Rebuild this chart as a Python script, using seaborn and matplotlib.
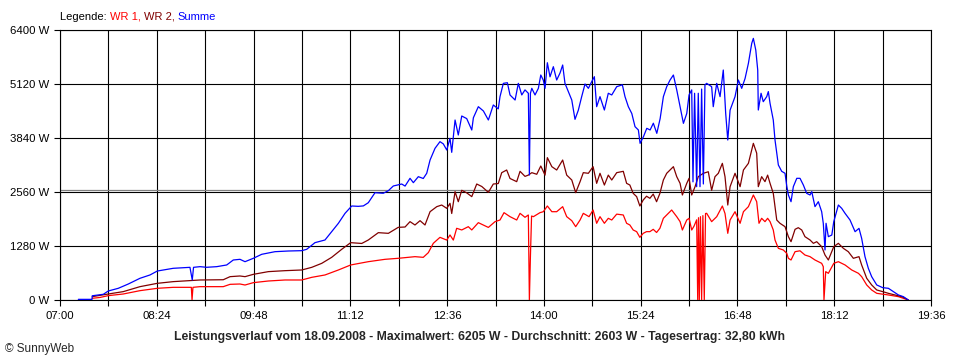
import matplotlib
matplotlib.use("Agg")
import matplotlib.pyplot as plt
import seaborn as sns

t_sum = [15.9, 27.8, 28.0, 37.6, 41.9, 50.6, 59.3, 69.4, 78.1, 84.5, 98.3, 112.8, 114.8, 115.9,
         121.5, 127.3, 136.0, 144.7, 150.4, 156.2, 160.6, 167.8, 175.1, 186.6, 198.2, 209.8, 214.1,
         221.3, 230.0, 235.8, 241.6, 247.4, 253.2, 258.9, 263.3, 267.6, 273.4, 280.6, 285.0, 289.3,
         296.6, 299.5, 303.8, 306.7, 311.0, 315.3, 318.3, 321.2, 325.5, 329.8, 332.7, 335.7, 338.5,
         340.0, 342.9, 345.7, 348.7, 353.0, 357.4, 358.8, 363.1, 367.5, 371.8, 376.1, 380.4, 381.9,
         384.8, 388.3, 390.6, 395.0, 397.8, 400.8, 403.6, 406.5, 407.4, 408.3, 409.5, 412.3, 415.2,
         417.3, 419.5, 421.0, 423.0, 425.3, 428.2, 431.1, 434.0, 436.3, 438.3, 441.2, 444.2, 447.0,
         449.9, 452.8, 455.7, 458.6, 461.5, 463.8, 465.8, 468.7, 472.5, 475.9, 478.9, 483.2, 488.1,
         490.4, 493.3, 496.3, 499.1, 502.0, 503.5, 506.4, 509.3, 512.2, 515.0, 518.0, 520.9, 523.7,
         526.6, 529.5, 532.4, 535.3, 538.2, 541.1, 544.0, 546.0, 548.3, 549.4, 550.8, 552.6, 554.0,
         555.5, 556.9, 558.4, 559.8, 561.3, 565.6, 567.0, 570.0, 572.9, 575.7, 577.8, 579.6, 581.6,
         585.9, 588.8, 591.7, 594.6, 597.5, 600.4, 601.8, 603.9, 605.6, 606.1, 608.5, 610.4, 613.4,
         614.8, 616.3, 619.1, 620.6, 622.1, 623.5, 626.4, 629.3, 630.8, 632.2, 634.5, 636.5, 639.5,
         642.3, 645.2, 648.1, 651.0, 652.5, 655.3, 658.2, 661.1, 662.5, 664.0, 664.9, 666.9, 669.9,
         671.6, 675.6, 678.5, 681.4, 685.7, 690.1, 693.5, 695.8, 698.7, 701.6, 704.5, 708.9, 714.1,
         719.0, 723.3, 727.7, 732.0, 736.3]
p_sum = [15, 15, 100, 135, 213, 277, 379, 514, 593, 687, 751, 774, 474, 774,
         790, 775, 790, 830, 948, 964, 908, 988, 1083, 1145, 1161, 1169, 1201,
         1359, 1422, 1619, 1817, 2054, 2228, 2220, 2230, 2306, 2543, 2530, 2591, 2702,
         2749, 2700, 2884, 2781, 2923, 2880, 3003, 3318, 3595, 3753, 3700, 3555, 3832,
         3500, 4266, 3911, 4361, 4300, 4029, 4320, 4582, 4480, 4266, 4622, 4530, 4819,
         5135, 5150, 4859, 4740, 5135, 4860, 4980, 4900, 2963, 4900, 5017, 4860, 5017,
         5333, 5210, 5017, 5624, 5290, 5530, 5214, 5380, 5570, 5135, 4938, 4740, 4282,
         4500, 4820, 5120, 5017, 5175, 5293, 4582, 4820, 4503, 4900, 4860, 5056, 5100,
         4820, 4582, 4420, 4108, 4030, 3713, 3870, 4069, 4030, 4190, 3950, 4300, 4819,
         5056, 5214, 5333, 4980, 4582, 4187, 4420, 4860, 4980, 2800, 4900, 2686, 4900,
         2686, 5000, 2750, 5100, 5135, 5056, 4582, 5135, 4820, 5451, 4420, 3792, 4500,
         4820, 5214, 5017, 5250, 5609, 6083, 6201, 5925, 5450, 4503, 4900, 4700, 4820,
         4940, 4660, 4266, 3792, 3480, 3200, 3050, 3003, 2700, 2489, 2330, 2686, 2884,
         2884, 2725, 2528, 2489, 2568, 2212, 2330, 2093, 1818, 1185, 1818, 1501, 1540,
         1857, 2251, 2172, 2054, 1896, 1619, 1698, 1462, 1027, 751, 553, 356, 292,
         277, 198, 119, 79, 0]

t_wr2 = [28.0, 41.9, 54.9, 69.4, 84.5, 98.3, 121.5, 141.7, 147.6, 156.2, 160.6, 167.8, 180.8,
         195.3, 209.8, 218.5, 227.2, 235.8, 244.5, 252.3, 261.9, 267.6, 276.3, 285.0, 293.6, 299.5,
         303.8, 308.1, 312.5, 316.8, 321.2, 327.0, 331.3, 335.7, 338.5, 340.0, 342.9, 345.7, 348.7,
         353.0, 357.4, 361.7, 366.1, 371.8, 376.1, 380.4, 383.4, 387.7, 390.6, 396.4, 399.3, 403.6,
         406.5, 409.5, 413.8, 417.3, 421.0, 423.0, 426.9, 431.1, 436.3, 439.8, 444.2, 447.6, 451.4,
         454.2, 458.6, 462.7, 465.8, 468.7, 472.5, 475.9, 478.9, 483.2, 488.9, 491.8, 494.6, 497.5,
         500.5, 503.3, 506.2, 509.1, 512.0, 514.9, 517.8, 520.7, 523.7, 526.6, 529.5, 532.4, 535.3,
         538.2, 540.2, 544.0, 546.0, 548.3, 551.2, 554.0, 558.4, 562.7, 565.6, 568.5, 571.4, 574.9,
         577.2, 579.6, 581.6, 585.9, 590.3, 593.2, 597.5, 600.4, 601.8, 604.7, 606.1, 609.0, 611.9,
         614.2, 616.3, 619.1, 620.6, 622.1, 624.9, 629.3, 632.2, 634.5, 638.0, 640.8, 643.8, 646.6,
         651.0, 653.9, 656.8, 661.1, 664.0, 666.9, 671.6, 675.6, 679.9, 684.2, 688.6, 693.5, 695.8,
         700.2, 704.5, 708.9, 714.1, 719.0, 724.8, 730.6, 736.3]
p_wr2 = [79, 142, 198, 316, 395, 435, 474, 480, 553, 569, 553, 608, 672,
         695, 711, 774, 869, 1011, 1201, 1359, 1340, 1422, 1596, 1580, 1722, 1730,
         1857, 1778, 1880, 1778, 2093, 2212, 2251, 2172, 2291, 2050, 2568, 2330, 2600,
         2540, 2450, 2749, 2690, 2552, 2749, 2760, 3018, 3081, 2880, 2805, 3050, 2930,
         2960, 3018, 2980, 3176, 2960, 3374, 3160, 3081, 3318, 2960, 2844, 2544, 2805,
         3018, 3003, 3160, 2765, 3003, 2725, 2960, 2844, 3018, 3050, 2765, 2725, 2528,
         2450, 2228, 2370, 2460, 2410, 2510, 2330, 2528, 2844, 3003, 3081, 3160, 2923,
         2765, 2489, 2765, 2884, 2489, 2686, 2923, 3003, 3040, 2600, 2923, 3003, 3239,
         2923, 2251, 2686, 3003, 2686, 3081, 3239, 3555, 3713, 3480, 2686, 2923, 2805,
         2960, 2765, 2528, 2212, 1896, 1818, 1738, 1501, 1382, 1675, 1714, 1659, 1501,
         1422, 1343, 1382, 1264, 1066, 948, 1264, 1343, 1225, 1145, 988, 1027, 830,
         514, 356, 237, 198, 158, 119, 79, 0]

t_wr1 = [28.0, 34.7, 41.9, 54.9, 69.4, 84.5, 98.3, 114.0, 114.6, 115.4, 121.5, 141.7, 147.6,
         156.2, 160.6, 167.8, 180.8, 195.3, 209.8, 218.5, 230.0, 241.6, 252.3, 267.6, 282.1, 293.6,
         308.1, 315.3, 319.7, 324.0, 329.8, 335.7, 338.5, 341.4, 344.3, 348.7, 354.4, 357.4, 363.1,
         371.8, 377.6, 381.9, 385.4, 390.6, 396.4, 399.3, 403.6, 406.5, 407.4, 408.3, 409.3, 410.9,
         416.6, 419.5, 423.0, 426.9, 431.1, 436.3, 439.8, 444.2, 447.6, 451.4, 454.2, 459.2, 462.7,
         465.8, 468.7, 472.5, 475.9, 478.9, 483.2, 488.9, 491.8, 494.6, 497.5, 500.5, 503.3, 506.2,
         509.1, 512.0, 514.9, 517.8, 520.7, 523.7, 526.6, 530.9, 535.3, 538.2, 540.2, 544.0, 546.0,
         548.3, 550.3, 552.6, 553.5, 554.2, 554.9, 555.9, 556.9, 558.0, 559.2, 560.3, 561.3, 565.6,
         570.0, 574.9, 577.2, 579.6, 581.6, 585.9, 590.3, 593.2, 597.5, 601.8, 604.7, 606.7, 609.0,
         611.9, 614.2, 616.3, 619.1, 620.6, 623.5, 627.8, 630.8, 632.2, 634.5, 638.0, 642.3, 646.6,
         651.0, 655.3, 661.1, 662.5, 663.1, 664.6, 666.9, 671.6, 675.6, 681.4, 687.2, 693.0, 695.8,
         700.2, 704.5, 708.9, 719.0, 727.7, 736.3]
p_wr1 = [40, 60, 103, 142, 221, 277, 300, 300, 0, 300, 316, 316, 371,
         379, 355, 411, 450, 474, 474, 537, 593, 711, 830, 908, 964, 988,
         1027, 1011, 1122, 1343, 1485, 1420, 1541, 1420, 1699, 1660, 1738, 1660, 1833,
         1720, 1857, 1896, 2070, 1975, 1896, 2054, 1960, 2015, 0, 1027, 1990, 1975,
         2070, 2093, 2228, 2093, 2093, 2212, 1975, 1880, 1738, 1896, 2054, 1975, 2133,
         1818, 1975, 1818, 1936, 1896, 2035, 2015, 1818, 1778, 1659, 1620, 1485, 1580,
         1620, 1620, 1675, 1600, 1700, 1936, 2015, 2133, 1975, 1857, 1659, 1896, 1936,
         1659, 1750, 1900, 0, 1950, 0, 1975, 0, 2000, 0, 2050, 2054, 1857,
         1975, 2228, 2050, 1580, 1896, 2093, 1818, 2093, 2212, 2489, 2330, 1818, 1936,
         1857, 1936, 1857, 1659, 1422, 1225, 1185, 1106, 988, 948, 1145, 1166, 1066,
         1027, 948, 869, 790, 0, 672, 632, 869, 908, 830, 711, 632, 553,
         356, 237, 158, 119, 79, 0]

avg_power = 2603
x_ticks = [0, 84, 168, 252, 336, 420, 504, 588, 672, 756]
x_labels = ["07:00", "08:24", "09:48", "11:12", "12:36", "14:00", "15:24", "16:48", "18:12", "19:36"]
y_ticks = [0, 1280, 2560, 3840, 5120, 6400]
y_labels = ["0 W", "1280 W", "2560 W", "3840 W", "5120 W", "6400 W"]

sns.set_theme(style="white")
plt.rcParams["font.family"] = ["Liberation Sans", "DejaVu Sans"]

fig = plt.figure(figsize=(9.6, 3.6), dpi=100)
ax = fig.add_axes([0.0625, 0.1667, 0.9073, 0.75])

ax.axhline(avg_power, color="#808080", lw=0.9, zorder=1)
sns.lineplot(x=t_wr1, y=p_wr1, color="#ff0000", lw=0.9, estimator=None, sort=False, ax=ax, zorder=3)
sns.lineplot(x=t_wr2, y=p_wr2, color="#800000", lw=0.9, estimator=None, sort=False, ax=ax, zorder=3)
sns.lineplot(x=t_sum, y=p_sum, color="#0000ff", lw=0.9, estimator=None, sort=False, ax=ax, zorder=4)

ax.set_xlim(0, 756)
ax.set_ylim(0, 6400)
ax.set_xticks(x_ticks)
ax.set_xticklabels(x_labels)
ax.set_xticks([t + 42 for t in x_ticks[:-1]], minor=True)
ax.set_yticks(y_ticks)
ax.set_yticklabels(y_labels)
ax.grid(True, which="both", color="black", lw=0.8)
ax.set_axisbelow(True)
ax.tick_params(which="both", direction="out", length=4, width=0.8, color="black",
               labelsize=8.2, labelcolor="black", pad=4, bottom=True, left=True)
ax.tick_params(axis="x", pad=4)
for s in ax.spines.values():
    s.set_color("black")
    s.set_linewidth(0.8)

# coloured legend line at the top
t0 = fig.text(0.0625, 0.94, "Legende: ", color="black", fontsize=8, va="bottom")
t1 = ax.annotate("WR 1, ", xy=(1, 0), xycoords=t0, va="bottom", color="#ff0000", fontsize=8)
t2 = ax.annotate("WR 2, ", xy=(1, 0), xycoords=t1, va="bottom", color="#800000", fontsize=8)
ax.annotate("Summe", xy=(1, 0), xycoords=t2, va="bottom", color="#0000ff", fontsize=8)

fig.text(0.499, 0.063, "Leistungsverlauf vom 18.09.2008 - Maximalwert: 6205 W - Durchschnitt: 2603 W"
         " - Tagesertrag: 32,80 kWh", ha="center", va="center", fontsize=8.8, fontweight="bold")
fig.text(0.005, 0.03, "\u00a9 SunnyWeb", ha="left", va="center", fontsize=8.5)

fig.savefig("out.png", dpi=100)
